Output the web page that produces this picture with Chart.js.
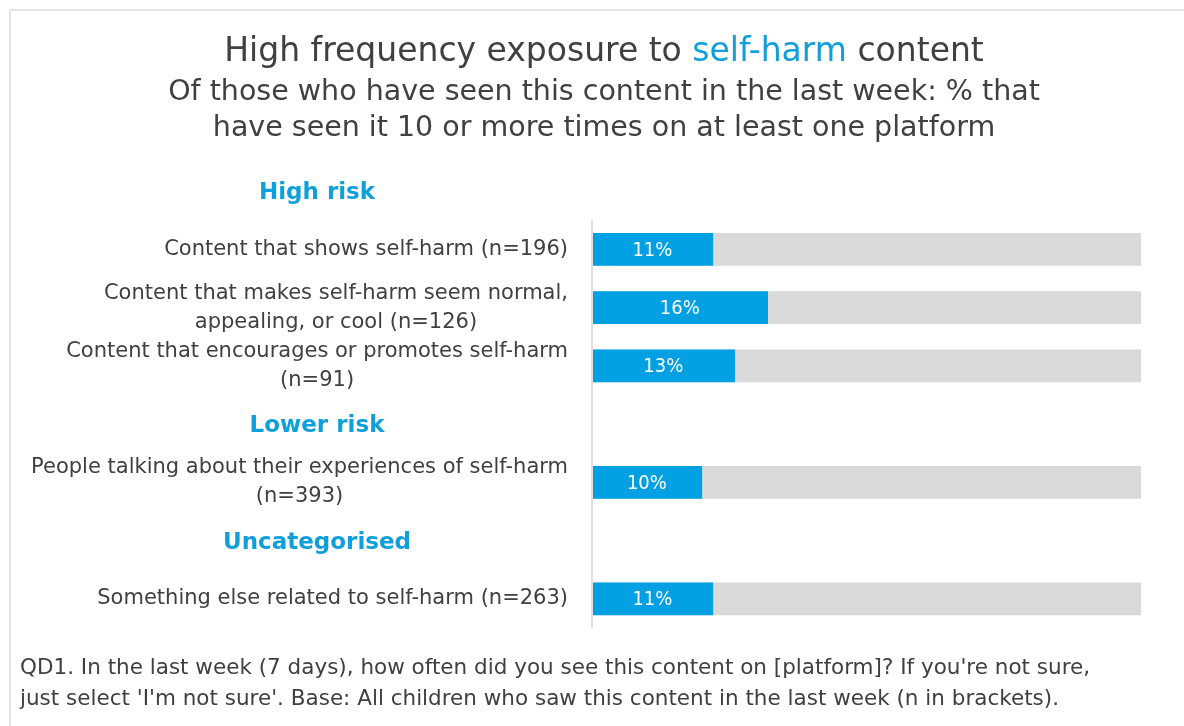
<!DOCTYPE html>
<html>
<head>
<meta charset="utf-8">
<script src="https://cdn.jsdelivr.net/npm/chart.js@4/dist/chart.umd.min.js"></script>
<style>
    html, body { margin: 0; padding: 0; background: #fff; }
    body { width: 1184px; height: 726px; position: relative; overflow: hidden; font-family: "DejaVu Sans", sans-serif; color: #404040; }
    #marco { position: absolute; left: 9px; top: 9px; width: 1300px; height: 800px; border-left: 2px solid #e4e4e4; border-top: 2px solid #e4e4e4; }
    #grafico { position: absolute; left: 0; top: 0; }
    .titulo { position: absolute; left: 0; width: 1208px; text-align: center; white-space: nowrap; }
    #t1 { top: 30px; font-size: 33px; }
    #t2 { top: 73px; font-size: 28.5px; line-height: 36px; }
    .azul { color: #0fa0dc; }
    #nota { position: absolute; left: 20px; top: 651px; font-size: 21.5px; line-height: 31px; white-space: nowrap; }
</style>
</head>
<body>
<div id="marco"></div>
<canvas id="grafico" width="1184" height="726"></canvas>
<div class="titulo" id="t1">High frequency exposure to <span class="azul">self-harm</span> content</div>
<div class="titulo" id="t2">Of those who have seen this content in the last week: % that<br>have seen it 10 or more times on at least one platform</div>
<div id="nota">QD1. In the last week (7 days), how often did you see this content on [platform]? If you're not sure,<br>just select 'I'm not sure'. Base: All children who saw this content in the last week (n in brackets).</div>
<script>
// filas del grafico (los encabezados van como filas vacias)
const rowLabels = [
    'High risk',
    'Content that shows self-harm (n=196)',
    ['Content that makes self-harm seem normal,', 'appealing, or cool (n=126)'],
    ['Content that encourages or promotes self-harm', '(n=91)'],
    'Lower risk',
    ['People talking about their experiences of self-harm', '(n=393)'],
    'Uncategorised',
    'Something else related to self-harm (n=263)'
];
const headerRows = [true, false, false, false, true, false, true, false];
const values = [null, 11, 16, 13, null, 10, null, 11];
const trackValues = [null, 50, 50, 50, null, 50, null, 50];
const xMax = 50;

const azul = '#00a0e3';
const gris = '#d9d9d9';
const texto = '#404040';
const fuente = '"DejaVu Sans", sans-serif';
const fuenteBarra = '"DejaVu Sans Condensed", "DejaVu Sans", sans-serif';

// etiquetas de la izquierda, encabezados, linea del eje y porcentajes
const etiquetas = {
    id: 'etiquetas',
    afterDraw: (chart) => {
        const ctx = chart.ctx;
        const y = chart.scales.y;
        const left = chart.chartArea.left;
        const banda = y.getPixelForValue(1) - y.getPixelForValue(0);
        ctx.save();

        // linea vertical del eje
        ctx.strokeStyle = '#e0e0e0';
        ctx.lineWidth = 2;
        ctx.beginPath();
        ctx.moveTo(left, y.getPixelForValue(1) - banda / 2);
        ctx.lineTo(left, chart.chartArea.bottom);
        ctx.stroke();

        ctx.textBaseline = 'middle';
        rowLabels.forEach((label, i) => {
            const cy = y.getPixelForValue(i);
            if (headerRows[i]) {
                ctx.font = 'bold 23px ' + fuente;
                ctx.fillStyle = '#0fa0dc';
                ctx.textAlign = 'center';
                ctx.fillText(label, left - 275, cy + 2);
                return;
            }
            const lines = Array.isArray(label) ? label : [label];
            ctx.font = '21px ' + fuente;
            ctx.fillStyle = texto;
            ctx.textAlign = 'center';
            const ancho = Math.max(...lines.map(l => ctx.measureText(l).width));
            const centro = left - 24 - ancho / 2;
            const alto = 29;
            lines.forEach((l, k) => {
                ctx.fillText(l, centro, cy + (k - (lines.length - 1) / 2) * alto);
            });
        });

        // porcentajes dentro de la barra azul
        const meta = chart.getDatasetMeta(0);
        ctx.font = '20px ' + fuenteBarra;
        ctx.fillStyle = '#ffffff';
        ctx.textAlign = 'center';
        meta.data.forEach((bar, i) => {
            if (values[i] === null) return;
            ctx.fillText(values[i] + '%', (bar.base + bar.x) / 2, bar.y + 1);
        });
        ctx.restore();
    }
};

const config = {
    type: 'bar',
    data: {
        labels: rowLabels,
        datasets: [{
            data: values,
            backgroundColor: azul,
            order: 0,
            grouped: false,
            barThickness: 32
        }, {
            data: trackValues,
            backgroundColor: gris,
            order: 1,
            grouped: false,
            barThickness: 32
        }]
    },
    options: {
        indexAxis: 'y',
        responsive: false,
        animation: false,
        layout: {
            padding: { left: 592, right: 43, top: 162, bottom: 98 }
        },
        scales: {
            x: { display: false, min: 0, max: xMax },
            y: { display: false }
        },
        plugins: {
            legend: { display: false },
            tooltip: { enabled: false }
        }
    },
    plugins: [etiquetas]
};

new Chart(document.getElementById('grafico'), config);
</script>
</body>
</html>
